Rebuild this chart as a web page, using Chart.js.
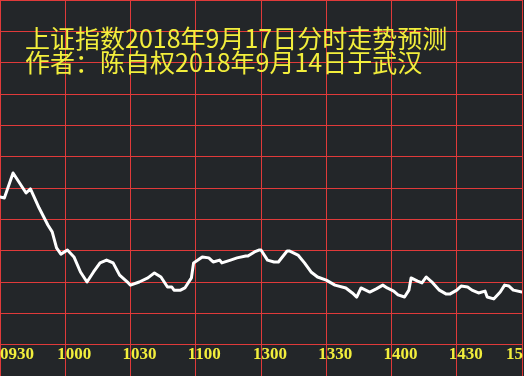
<!DOCTYPE html>
<html>
<head>
<meta charset="utf-8">
<script src="https://cdn.jsdelivr.net/npm/chart.js@4/dist/chart.umd.min.js"></script>
<style>
    html, body { margin: 0; padding: 0; background: #232629; overflow: hidden; }
    #wrap { width: 524px; height: 376px; }
</style>
</head>
<body>
<div id="wrap"><canvas id="fenshi" width="524" height="376"></canvas></div>
<script>
// minutes since 09:30 (lunch break collapsed, 240 = 15:00)
const minutes = [
    0, 2, 6, 9, 12, 14, 18, 22, 24, 26, 28, 31, 34, 37, 40, 43, 46, 49, 52, 55,
    59, 60, 64, 68, 71, 74, 77, 79, 80, 83, 85, 88, 89, 91, 93, 96, 98, 101, 102, 106,
    109, 113, 114, 117, 119, 120, 123, 126, 128, 132, 133, 137, 140, 143, 146, 150, 154, 159, 162, 164,
    166, 170, 173, 176, 178, 181, 183, 186, 188, 189, 192, 194, 196, 199, 202, 205, 207, 210, 212, 215,
    217, 220, 223, 224, 227, 230, 232, 234, 236, 240
];
// level in grid rows above the bottom edge
const level = [
    5.71, 5.68, 6.48, 6.16, 5.84, 5.97, 5.36, 4.82, 4.60, 4.09, 3.89, 4.02, 3.80, 3.32, 3.00, 3.32, 3.61, 3.70, 3.61, 3.22,
    2.97, 2.90, 3.00, 3.13, 3.29, 3.16, 2.84, 2.84, 2.74, 2.74, 2.81, 3.13, 3.61, 3.70, 3.80, 3.77, 3.64, 3.70, 3.61, 3.70,
    3.77, 3.83, 3.83, 3.96, 4.02, 4.02, 3.70, 3.64, 3.64, 3.99, 3.99, 3.86, 3.61, 3.32, 3.16, 3.06, 2.90, 2.81, 2.65, 2.52,
    2.81, 2.68, 2.78, 2.90, 2.81, 2.71, 2.59, 2.52, 2.74, 3.13, 3.03, 2.97, 3.16, 2.97, 2.74, 2.62, 2.62, 2.74, 2.87, 2.84,
    2.74, 2.65, 2.71, 2.52, 2.46, 2.68, 2.90, 2.87, 2.74, 2.68
];
const timeLabels = ['0930', '1000', '1030', '1100', '1300', '1330', '1400', '1430', '1500'];
const titleLines = [
    '上证指数2018年9月17日分时走势预测',
    '作者：陈自权2018年9月14日于武汉'
];

const GRID_RED = '#e03a3a';
const YELLOW = '#f2ee3c';

const overlayText = {
    id: 'overlayText',
    afterDraw(chart) {
        const ctx = chart.ctx;
        const xs = chart.scales.x;
        const area = chart.chartArea;
        ctx.save();
        ctx.fillStyle = YELLOW;

        // title, written over the grid
        ctx.font = '25px "Noto Sans CJK SC"';
        ctx.textBaseline = 'alphabetic';
        ctx.textAlign = 'left';
        ctx.fillText(titleLines[0], 25, 48);
        ctx.fillText(titleLines[1], 25, 72);

        // time labels in the bottom band
        ctx.beginPath();
        ctx.rect(0, 0, area.right + 1, chart.height);
        ctx.clip();
        ctx.font = 'bold 17px "Liberation Serif"';
        const last = xs.ticks.length - 1;
        xs.ticks.forEach((t, i) => {
            const gx = xs.getPixelForValue(t.value);
            let left = gx - 8;
            if (i === 0) left = gx;
            if (i === last) left = gx - 16;
            ctx.fillText(timeLabels[i], left, 359);
        });
        ctx.restore();
    }
};

new Chart(document.getElementById('fenshi'), {
    type: 'line',
    data: {
        datasets: [{
            data: minutes.map((m, i) => ({ x: m, y: level[i] })),
            borderColor: '#ffffff',
            borderWidth: 3,
            pointRadius: 0,
            tension: 0,
            borderJoinStyle: 'round',
            borderCapStyle: 'round'
        }]
    },
    options: {
        responsive: false,
        animation: false,
        layout: { padding: { top: 0, left: 0, right: 2, bottom: 0 } },
        plugins: { legend: { display: false }, tooltip: { enabled: false } },
        scales: {
            x: {
                type: 'linear',
                min: 0,
                max: 240,
                ticks: { stepSize: 30, display: false },
                grid: { color: GRID_RED, lineWidth: 1, drawTicks: false },
                border: { display: false }
            },
            y: {
                min: 0,
                max: 12,
                ticks: { stepSize: 1, display: false },
                grid: { color: GRID_RED, lineWidth: 1, drawTicks: false },
                border: { display: false }
            }
        }
    },
    plugins: [overlayText]
});
</script>
</body>
</html>
